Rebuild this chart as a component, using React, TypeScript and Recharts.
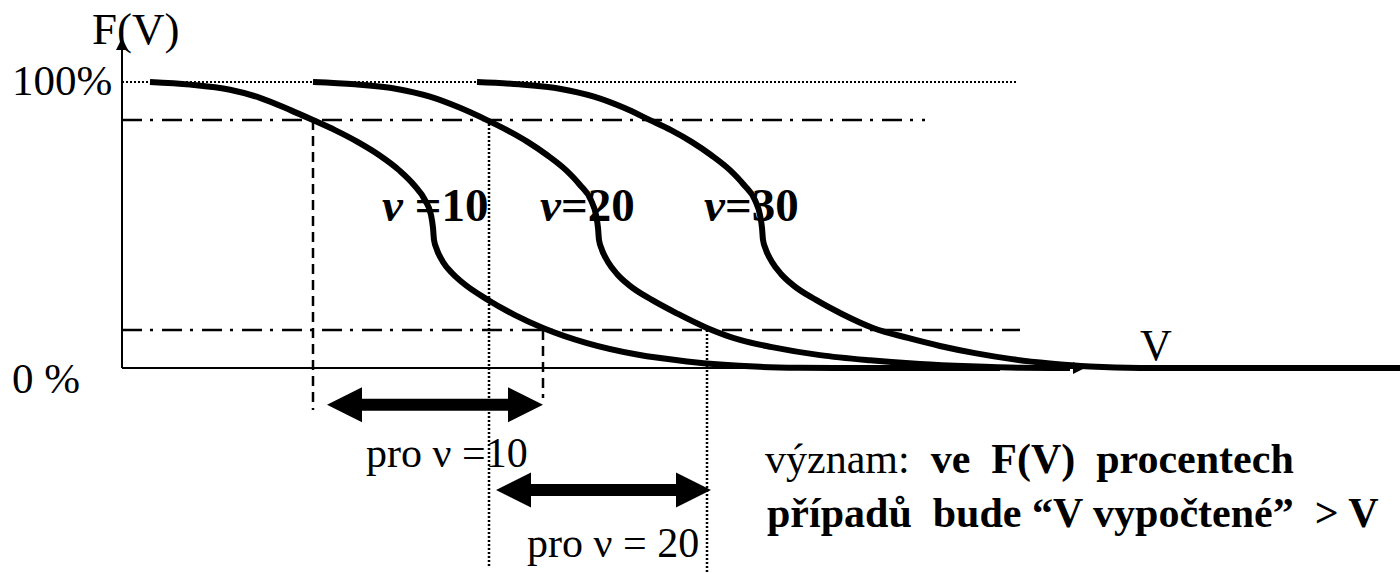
import { LineChart, Line, XAxis, YAxis, ReferenceLine, ReferenceDot } from "recharts";

// V in arbitrary units, F(V) in %
const curveNu10 = [
  { V: 2.8, F: 100 },
  { V: 6.8, F: 99.1 },
  { V: 10.8, F: 97.3 },
  { V: 13.8, F: 94.5 },
  { V: 16.9, F: 90.1 },
  { V: 19.1, F: 86.7 },
  { V: 21.3, F: 83.2 },
  { V: 23.6, F: 79.0 },
  { V: 25.7, F: 74.5 },
  { V: 27.7, F: 69.2 },
  { V: 29.2, F: 64.0 },
  { V: 30.3, F: 58.7 },
  { V: 30.9, F: 53.5 },
  { V: 31.1, F: 49.0 },
  { V: 31.2, F: 44.8 },
  { V: 31.5, F: 41.3 },
  { V: 32.1, F: 37.1 },
  { V: 33.0, F: 33.2 },
  { V: 34.1, F: 29.7 },
  { V: 36.6, F: 23.8 },
  { V: 39.3, F: 18.5 },
  { V: 42.1, F: 14.0 },
  { V: 46.5, F: 8.7 },
  { V: 51.5, F: 4.7 },
  { V: 56.5, F: 2.3 },
  { V: 59.8, F: 1.2 },
  { V: 63.8, F: 0.4 },
  { V: 67.8, F: 0.1 },
  { V: 72.8, F: 0 },
  { V: 87.8, F: 0 },
];

const curveNu20 = [
  { V: 19.1, F: 100 },
  { V: 23.3, F: 99.2 },
  { V: 27.5, F: 97.6 },
  { V: 30.8, F: 94.9 },
  { V: 33.8, F: 91.0 },
  { V: 36.5, F: 86.7 },
  { V: 38.5, F: 83.2 },
  { V: 40.6, F: 79.0 },
  { V: 42.5, F: 74.5 },
  { V: 44.4, F: 69.2 },
  { V: 45.8, F: 64.0 },
  { V: 46.9, F: 58.7 },
  { V: 47.4, F: 53.5 },
  { V: 47.6, F: 49.0 },
  { V: 47.7, F: 44.8 },
  { V: 48.0, F: 41.3 },
  { V: 48.6, F: 37.1 },
  { V: 49.5, F: 32.9 },
  { V: 50.7, F: 29.0 },
  { V: 53.0, F: 23.8 },
  { V: 55.6, F: 18.9 },
  { V: 58.5, F: 14.0 },
  { V: 61.8, F: 9.8 },
  { V: 65.0, F: 7.3 },
  { V: 69.8, F: 4.5 },
  { V: 74.8, F: 2.7 },
  { V: 79.8, F: 1.4 },
  { V: 84.8, F: 0.6 },
  { V: 89.8, F: 0.1 },
  { V: 94.8, F: 0 },
];

const curveNu30 = [
  { V: 35.5, F: 100 },
  { V: 39.7, F: 99.2 },
  { V: 43.9, F: 97.6 },
  { V: 47.2, F: 94.9 },
  { V: 50.2, F: 91.0 },
  { V: 52.8, F: 86.7 },
  { V: 54.9, F: 83.2 },
  { V: 57.0, F: 79.0 },
  { V: 58.9, F: 74.5 },
  { V: 60.8, F: 69.2 },
  { V: 62.2, F: 64.0 },
  { V: 63.3, F: 58.7 },
  { V: 63.8, F: 53.5 },
  { V: 64.0, F: 49.0 },
  { V: 64.1, F: 44.8 },
  { V: 64.4, F: 41.3 },
  { V: 65.0, F: 37.1 },
  { V: 65.9, F: 32.9 },
  { V: 67.1, F: 29.0 },
  { V: 69.4, F: 23.8 },
  { V: 72.0, F: 18.9 },
  { V: 75.1, F: 14.0 },
  { V: 78.6, F: 10.5 },
  { V: 81.8, F: 7.7 },
  { V: 85.3, F: 5.2 },
  { V: 89.0, F: 3.1 },
  { V: 92.8, F: 1.6 },
  { V: 96.8, F: 0.5 },
  { V: 101.8, F: 0 },
  { V: 127.8, F: 0 },
];

const upperLevel = 86.7;
const lowerLevel = 13.3;
// quantiles where the curves cross the two levels
const quantNu10 = [19.1, 42.1];
const quantNu20 = [36.7, 58.5];
const rangeArrowNu10 = [20.5, 42.1];
const rangeArrowNu20 = [37.4, 58.9];

const xDomain = [-12.2, 127.8];
const yDomain = [-71.7, 128.7];

const FONT = "'Liberation Serif', 'Times New Roman', serif";

const AxisArrow = (props: any) => {
  const { x1, y1, x2, y2 } = props;
  const vertical = Math.abs(x1 - x2) < 1;
  const head = vertical
    ? `${x2},${y2} ${x2 - 6},${y2 + 12} ${x2 + 6},${y2 + 12}`
    : `${x2},${y2} ${x2 - 12},${y2 - 6} ${x2 - 12},${y2 + 6}`;
  return (
    <g>
      <line x1={x1} y1={y1} x2={vertical ? x2 : x2 - 8} y2={vertical ? y2 + 8 : y2} stroke="#000" strokeWidth={2} />
      <polygon points={head} fill="#000" />
    </g>
  );
};

const DoubleArrow = (props: any) => {
  const { x1, y1, x2 } = props;
  const y = y1;
  const hl = 35;
  const hh = 17.5;
  const sh = 6;
  const pts = [
    [x1, y],
    [x1 + hl, y - hh],
    [x1 + hl, y - sh],
    [x2 - hl, y - sh],
    [x2 - hl, y - hh],
    [x2, y],
    [x2 - hl, y + hh],
    [x2 - hl, y + sh],
    [x1 + hl, y + sh],
    [x1 + hl, y + hh],
  ]
    .map((p) => p.join(","))
    .join(" ");
  return <polygon points={pts} fill="#000" />;
};

const textAt =
  (content: any, size: number, weight: string = "normal") =>
  (props: any) => (
    <text
      x={props.cx}
      y={props.cy}
      fontFamily={FONT}
      fontSize={size}
      fontWeight={weight}
      fill="#000"
      style={{ whiteSpace: "pre" }}
    >
      {content}
    </text>
  );

const nu = (s: string) => (
  <>
    <tspan fontStyle="italic">ν</tspan>
    {s}
  </>
);

const curveProps = {
  dataKey: "F",
  type: "monotone" as const,
  stroke: "#000",
  strokeWidth: 6,
  dot: false,
  activeDot: false,
  isAnimationActive: false,
};

export default function App() {
  return (
    <div style={{ position: "absolute", left: 0, top: 0, background: "#fff" }}>
      <LineChart width={1400} height={573} margin={{ top: 0, right: 0, bottom: 0, left: 0 }}>
        <XAxis type="number" dataKey="V" domain={xDomain} allowDataOverflow hide />
        <YAxis type="number" dataKey="F" domain={yDomain} allowDataOverflow hide />

        {/* guide lines */}
        <ReferenceLine
          segment={[{ x: 0, y: 100 }, { x: 89.6, y: 100 }]}
          stroke="#000"
          strokeWidth={2}
          strokeDasharray="2 2"
        />
        <ReferenceLine
          segment={[{ x: 0, y: upperLevel }, { x: 80.3, y: upperLevel }]}
          stroke="#000"
          strokeWidth={2.5}
          strokeDasharray="20 8 3 9"
        />
        <ReferenceLine
          segment={[{ x: 0, y: lowerLevel }, { x: 89.8, y: lowerLevel }]}
          stroke="#000"
          strokeWidth={2.5}
          strokeDasharray="20 8 3 9"
        />
        <ReferenceLine
          segment={[{ x: quantNu10[0], y: upperLevel }, { x: quantNu10[0], y: -14.7 }]}
          stroke="#000"
          strokeWidth={2.5}
          strokeDasharray="10 6"
        />
        <ReferenceLine
          segment={[{ x: quantNu10[1], y: lowerLevel }, { x: quantNu10[1], y: -10.5 }]}
          stroke="#000"
          strokeWidth={2.5}
          strokeDasharray="10 6"
        />
        <ReferenceLine
          segment={[{ x: quantNu20[0], y: upperLevel }, { x: quantNu20[0], y: -69.6 }]}
          stroke="#000"
          strokeWidth={2.5}
          strokeDasharray="2 2"
        />
        <ReferenceLine
          segment={[{ x: quantNu20[1], y: lowerLevel }, { x: quantNu20[1], y: -71.7 }]}
          stroke="#000"
          strokeWidth={2.5}
          strokeDasharray="2 2"
        />

        {/* axes */}
        <ReferenceLine segment={[{ x: 0, y: 0 }, { x: 0, y: 115.4 }]} shape={AxisArrow} />
        <ReferenceLine segment={[{ x: 0, y: 0 }, { x: 96.3, y: 0 }]} shape={AxisArrow} />

        <Line data={curveNu10} {...curveProps} />
        <Line data={curveNu20} {...curveProps} />
        <Line data={curveNu30} {...curveProps} />

        {/* range arrows */}
        <ReferenceLine segment={[{ x: rangeArrowNu10[0], y: -12.9 }, { x: rangeArrowNu10[1], y: -12.9 }]} shape={DoubleArrow} />
        <ReferenceLine segment={[{ x: rangeArrowNu20[0], y: -42.7 }, { x: rangeArrowNu20[1], y: -42.7 }]} shape={DoubleArrow} />

        {/* texts */}
        <ReferenceDot x={-3} y={113.3} r={0} shape={textAt("F(V)", 45)} />
        <ReferenceDot x={-11} y={95.5} r={0} shape={textAt("100%", 43)} />
        <ReferenceDot x={-11} y={-8.7} r={0} shape={textAt("0 %", 43)} />
        <ReferenceDot x={26} y={51.5} r={0} shape={textAt(nu(" =10"), 47, "bold")} />
        <ReferenceDot x={41.8} y={51.5} r={0} shape={textAt(nu("=20"), 47, "bold")} />
        <ReferenceDot x={58.2} y={51.5} r={0} shape={textAt(nu("=30"), 47, "bold")} />
        <ReferenceDot x={101.8} y={2.8} r={0} shape={textAt("V", 44)} />
        <ReferenceDot x={24.4} y={-34.6} r={0} shape={textAt("pro ν =10", 42)} />
        <ReferenceDot x={40.5} y={-66.1} r={0} shape={textAt("pro ν = 20", 42)} />
        <ReferenceDot
          x={64.3}
          y={-36.7}
          r={0}
          shape={textAt(
            <>
              {"význam:  "}
              <tspan fontWeight="bold">{"ve  F(V)  procentech"}</tspan>
            </>,
            42
          )}
        />
        <ReferenceDot x={64.5} y={-55.6} r={0} shape={textAt("případů  bude “V vypočtené”  > V", 42, "bold")} />
      </LineChart>
    </div>
  );
}
